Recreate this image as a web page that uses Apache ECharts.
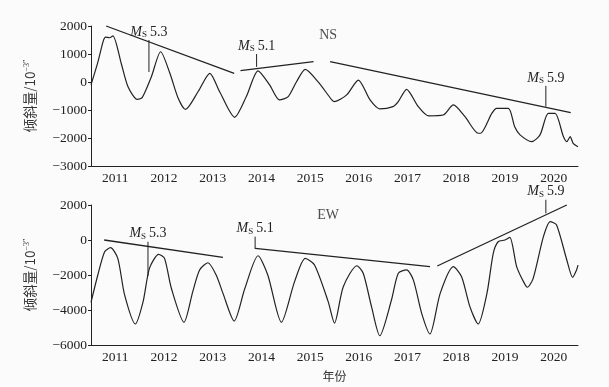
<!DOCTYPE html>
<html>
<head>
<meta charset="utf-8">
<script src="https://cdn.jsdelivr.net/npm/echarts@6/dist/echarts.min.js"></script>
<style>
  html, body { margin: 0; padding: 0; background: #fbfbfc; }
  #mychart { width: 609px; height: 387px; }
</style>
</head>
<body>
<div id="mychart"></div>
<script>
// 年份刻度
const yearLabels = ['2011', '2012', '2013', '2014', '2015', '2016', '2017', '2018', '2019', '2020'];

// NS 分量
const nsYears = [2011.00, 2011.14, 2011.25, 2011.30, 2011.38, 2011.45, 2011.62, 2011.76, 2011.95, 2012.05,
  2012.24, 2012.43, 2012.62, 2012.79, 2012.94, 2013.20, 2013.44, 2013.64, 2013.95, 2014.19,
  2014.43, 2014.67, 2014.87, 2015.05, 2015.22, 2015.40, 2015.66, 2015.95, 2016.00, 2016.25,
  2016.49, 2016.73, 2016.93, 2017.20, 2017.31, 2017.48, 2017.72, 2017.93, 2018.23, 2018.44,
  2018.68, 2018.95, 2019.00, 2019.23, 2019.33, 2019.57, 2019.70, 2019.81, 2020.05, 2020.22,
  2020.39, 2020.53, 2020.70, 2020.77, 2020.84, 2020.90, 2021.00];
const nsValues = [-100, 700, 1450, 1600, 1580, 1650, 670, -170, -620, -560,
  190, 1080, 310, -580, -980, -340, 310, -340, -1260, -520,
  400, -110, -640, -520, 10, 450, 10, -650, -700, -460,
  70, -640, -960, -880, -700, -260, -880, -1210, -1180, -820,
  -1240, -1830, -1830, -1120, -940, -940, -1600, -1890, -2130, -1890,
  -1120, -1120, -1950, -2130, -1950, -2190, -2310];

// EW 分量
const ewYears = [2011.00, 2011.14, 2011.28, 2011.40, 2011.55, 2011.69, 2011.91, 2012.07, 2012.20, 2012.39,
  2012.51, 2012.65, 2012.91, 2013.09, 2013.23, 2013.40, 2013.57, 2013.71, 2013.94, 2014.16,
  2014.43, 2014.63, 2014.91, 2015.18, 2015.40, 2015.59, 2015.87, 2016.00, 2016.18, 2016.46,
  2016.59, 2016.76, 2016.93, 2017.17, 2017.31, 2017.48, 2017.62, 2017.79, 2017.96, 2018.17,
  2018.44, 2018.61, 2018.78, 2018.95, 2019.13, 2019.26, 2019.36, 2019.50, 2019.60, 2019.74,
  2019.88, 2019.96, 2020.08, 2020.29, 2020.43, 2020.56, 2020.77, 2020.89, 2020.97, 2021.00];
const ewValues = [-3560, -2000, -670, -440, -1050, -3140, -4800, -3520, -1620, -820,
  -1050, -2760, -4700, -2950, -1710, -1300, -2000, -3050, -4630, -2760,
  -900, -2000, -4700, -2380, -1050, -1430, -3520, -4750, -2670, -1470,
  -1900, -3810, -5470, -3430, -1900, -1710, -2290, -4190, -5370, -3050,
  -1520, -2100, -3810, -4800, -3050, -760, -100, 0, 150, -1520,
  -2380, -2700, -2190, 190, 1050, 860, -1140, -2130, -1710, -1430];

// 趋势线 (起止年份, 起止值)
const nsTrendX = [[2011.31, 2013.94], [2014.07, 2015.57], [2015.91, 2020.85]];
const nsTrendY = [[2000, 310], [405, 726], [726, -1095]];
const ewTrendX = [[2011.27, 2013.71], [2014.37, 2017.96], [2018.11, 2020.77]];
const ewTrendY = [[0, -990], [-476, -1524], [-1486, 2000]];

// 地震标注
const quakeMags = ['5.3', '5.1', '5.9'];
const nsQuakeX = [2012.19, 2014.40, 2020.34];
const nsQuakeTop = [1500, 1000, -140];
const nsQuakeBottom = [357, 540, -880];
const ewQuakeX = [2012.17, 2014.37, 2020.34];
const ewQuakeTop = [-100, 190, 2300];
const ewQuakeBottom = [-2060, -514, 1524];

const serif = '"Liberation Serif", "Times New Roman", serif';
const cjk = 'Noto Sans CJK SC';
const ink = '#222';

const myChart = echarts.init(document.getElementById('mychart'));

function zip(xs, ys) {
  return xs.map((x, i) => [x, ys[i]]);
}

const msRich = {
  i: { fontFamily: serif, fontStyle: 'italic', fontSize: 14, color: ink, verticalAlign: 'bottom' },
  s: { fontFamily: serif, fontSize: 9, color: ink, verticalAlign: 'bottom', padding: [0, 3, 0, 0] },
  n: { fontFamily: serif, fontSize: 14, color: ink, verticalAlign: 'bottom' }
};

function xAxesFor(gridIndex) {
  return [
    { type: 'value', gridIndex: gridIndex, min: 2011, max: 2021, show: false },
    {
      type: 'category', gridIndex: gridIndex, data: yearLabels, boundaryGap: true,
      position: 'bottom',
      axisLine: { onZero: false, lineStyle: { color: ink, width: 1 } },
      axisTick: { inside: true, length: 4, lineStyle: { color: ink } },
      axisLabel: { fontFamily: serif, fontSize: 13.5, color: ink, margin: 5 },
      splitLine: { show: false },
      name: gridIndex === 1 ? '年份' : '',
      nameLocation: 'middle', nameGap: 25,
      nameTextStyle: { fontFamily: cjk, fontSize: 12, color: '#333' }
    }
  ];
}

function yAxisFor(gridIndex, min, max, interval) {
  return {
    type: 'value', gridIndex: gridIndex, min: min, max: max, interval: interval,
    axisLine: { show: true, lineStyle: { color: ink, width: 1 } },
    axisTick: { show: true, inside: false, length: 3, lineStyle: { color: ink } },
    axisLabel: {
      fontFamily: serif, fontSize: 13.5, color: ink, margin: 4,
      formatter: v => String(v).replace('-', '\u2212')
    },
    splitLine: { show: false },
    name: '倾斜量/10{sup|\u22123\u2033}',
    nameLocation: 'middle', nameGap: 54,
    nameTextStyle: {
      fontFamily: cjk, fontSize: 13.5, color: '#333',
      rich: { sup: { fontFamily: serif, fontSize: 8, color: '#333', verticalAlign: 'top', padding: [0, 0, 6, 0] } }
    }
  };
}

function lineSeries(xIdx, yIdx, data, width) {
  return {
    type: 'line', xAxisIndex: xIdx, yAxisIndex: yIdx, data: data,
    showSymbol: false, symbol: 'none', silent: true, clip: false,
    lineStyle: { color: ink, width: width }
  };
}

let series = [];
// 曲线
series.push(Object.assign(lineSeries(0, 0, zip(nsYears, nsValues), 1.2), { smooth: 0.25 }));
series.push(Object.assign(lineSeries(2, 1, zip(ewYears, ewValues), 1.2), { smooth: 0.25 }));
// 趋势线
for (let i = 0; i < nsTrendX.length; ++i) {
  series.push(lineSeries(0, 0, zip(nsTrendX[i], nsTrendY[i]), 1.3));
  series.push(lineSeries(2, 1, zip(ewTrendX[i], ewTrendY[i]), 1.3));
}
// 地震标注
function quakeSeries(xIdx, yIdx, x, top, bottom, mag) {
  let s = lineSeries(xIdx, yIdx, [
    {
      value: [x, top],
      label: {
        show: true, position: 'top', distance: 1,
        formatter: '{i|M}{s|S}{n|' + mag + '}', rich: msRich
      }
    },
    [x, bottom]
  ], 1);
  s.showSymbol = true;
  s.symbol = 'circle';
  s.symbolSize = 0.01;
  s.itemStyle = { color: 'rgba(0,0,0,0)' };
  return s;
}
for (let i = 0; i < quakeMags.length; ++i) {
  series.push(quakeSeries(0, 0, nsQuakeX[i], nsQuakeTop[i], nsQuakeBottom[i], quakeMags[i]));
  series.push(quakeSeries(2, 1, ewQuakeX[i], ewQuakeTop[i], ewQuakeBottom[i], quakeMags[i]));
}
// 分量名
series.push({
  type: 'scatter', xAxisIndex: 0, yAxisIndex: 0, symbolSize: 0, silent: true,
  data: [[2015.87, 1680]],
  label: { show: true, position: 'inside', formatter: 'NS', fontFamily: serif, fontSize: 14, color: ink }
});
series.push({
  type: 'scatter', xAxisIndex: 2, yAxisIndex: 1, symbolSize: 0, silent: true,
  data: [[2015.87, 1430]],
  label: { show: true, position: 'inside', formatter: 'EW', fontFamily: serif, fontSize: 14, color: ink }
});

const options = {
  backgroundColor: '#fbfbfc',
  animation: false,
  grid: [
    { left: 91, top: 26, width: 487, height: 140 },
    { left: 91, top: 205, width: 487, height: 140 }
  ],
  xAxis: xAxesFor(0).concat(xAxesFor(1)),
  yAxis: [
    yAxisFor(0, -3000, 2000, 1000),
    yAxisFor(1, -6000, 2000, 2000)
  ],
  series: series
};
myChart.setOption(options);
</script>
</body>
</html>
